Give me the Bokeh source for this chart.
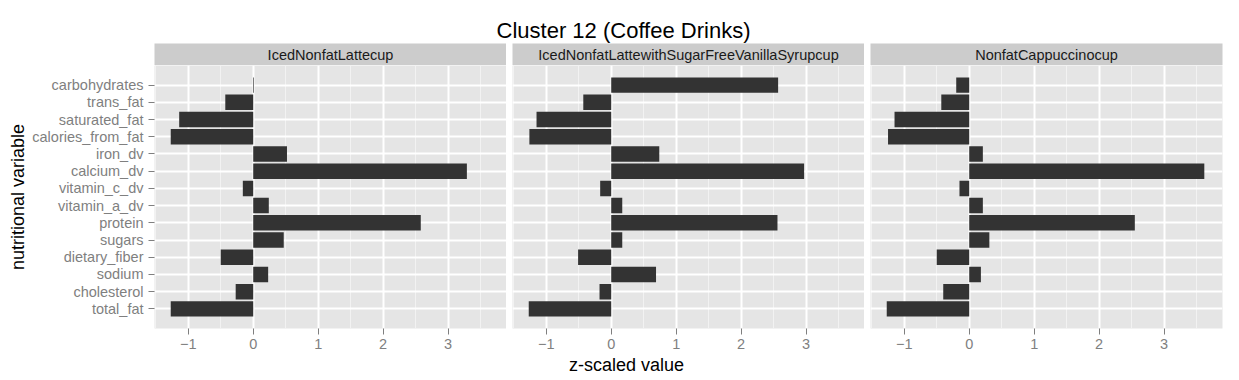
from bokeh.plotting import figure
from bokeh.models import ColumnDataSource, Range1d, FactorRange, FixedTicker, CategoricalTicker
from bokeh.layouts import column, row
from bokeh.embed import file_html
from bokeh.resources import INLINE
from bokeh.core.properties import value

# ---------------- data ----------------
title_text = "Cluster 12 (Coffee Drinks)"
x_title = "z-scaled value"
y_title = "nutritional variable"

# bottom -> top
variables = ["total_fat", "cholesterol", "sodium", "dietary_fiber", "sugars", "protein",
             "vitamin_a_dv", "vitamin_c_dv", "calcium_dv", "iron_dv", "calories_from_fat",
             "saturated_fat", "trans_fat", "carbohydrates"]

drinks = ["IcedNonfatLattecup",
          "IcedNonfatLattewithSugarFreeVanillaSyrupcup",
          "NonfatCappuccinocup"]

iced_nonfat_latte = [-1.27, -0.27, 0.23, -0.50, 0.47, 2.58, 0.24, -0.16, 3.29, 0.52, -1.27, -1.14, -0.43, 0.01]
iced_sf_vanilla = [-1.27, -0.18, 0.69, -0.51, 0.17, 2.56, 0.17, -0.17, 2.97, 0.74, -1.26, -1.15, -0.43, 2.57]
nonfat_cappuccino = [-1.27, -0.40, 0.18, -0.50, 0.31, 2.55, 0.21, -0.15, 3.62, 0.21, -1.25, -1.15, -0.43, -0.20]
series = [iced_nonfat_latte, iced_sf_vanilla, nonfat_cappuccino]

x_ticks = [-1, 0, 1, 2, 3]
x_minor = [-1.5, -0.5, 0.5, 1.5, 2.5, 3.5]

# ---------------- style / layout ----------------
FONT = "Liberation Sans"
LEFT, FW, GAP, RIGHT = 154, 352, 6, 14
TOTAL_W = LEFT + 3 * FW + 2 * GAP + RIGHT
TITLE_H, STRIP_H, FRAME_H, AXIS_H, XLAB_H = 43, 22, 263, 26, 22
PANEL_BG = "#E5E5E5"
STRIP_BG = "#CCCCCC"
BAR = "#333333"
TICK_GREY = "#7F7F7F"
X_START, X_END = -1.52, 3.90


def text_fig(w, h, txt, x, y, size):
    f = figure(width=w, height=h, x_range=Range1d(0, w), y_range=Range1d(0, h),
               output_backend="svg", toolbar_location=None,
               x_axis_location=None, y_axis_location=None,
               min_border=0, outline_line_color=None)
    f.grid.visible = False
    f.text(x=[x], y=[y], text=[txt], text_font=value(FONT), text_font_size=size,
           text_color="black", text_align="center", text_baseline="middle")
    return f


title_fig = text_fig(TOTAL_W, TITLE_H, title_text, 623, 13, "22px")
xlab_fig = text_fig(TOTAL_W, XLAB_H, x_title, 626, 11.5, "18px")

strips = []
panels = []
for i, (name, vals) in enumerate(zip(drinks, series)):
    lb = LEFT if i == 0 else GAP
    rb = RIGHT if i == 2 else 0
    w = lb + FW + rb

    s = figure(width=w, height=STRIP_H, x_range=Range1d(0, 1), y_range=Range1d(0, 1),
               output_backend="svg", toolbar_location=None,
               x_axis_location=None, y_axis_location=None,
               min_border_left=lb, min_border_right=rb, min_border_top=0, min_border_bottom=0,
               background_fill_color=STRIP_BG, border_fill_color="white",
               outline_line_color=None)
    s.grid.visible = False
    s.text(x=[0.5], y=[0.5], text=[name], text_font=value(FONT), text_font_size="14.5px",
           text_color="#1A1A1A", text_align="center", text_baseline="middle")
    strips.append(s)

    src = ColumnDataSource(dict(var=variables, val=vals))
    p = figure(width=w, height=FRAME_H + AXIS_H,
               x_range=Range1d(X_START, X_END),
               y_range=FactorRange(factors=variables, range_padding=0.64,
                                   range_padding_units="absolute"),
               output_backend="svg", toolbar_location=None,
               y_axis_location="left" if i == 0 else None,
               min_border_left=lb, min_border_right=rb, min_border_top=0,
               min_border_bottom=AXIS_H,
               background_fill_color=PANEL_BG, border_fill_color="white",
               outline_line_color=None)
    p.hbar(y="var", left=0, right="val", height=0.9, source=src,
           fill_color=BAR, line_color=None)

    # x axis
    p.xaxis.ticker = FixedTicker(ticks=x_ticks, minor_ticks=x_minor)
    p.xaxis.axis_line_color = None
    p.xaxis.major_tick_out = 6
    p.xaxis.major_tick_in = 0
    p.xaxis.major_tick_line_color = TICK_GREY
    p.xaxis.minor_tick_line_color = None
    p.xaxis.major_label_text_font = FONT
    p.xaxis.major_label_text_font_size = "14.5px"
    p.xaxis.major_label_text_color = TICK_GREY
    p.xaxis.major_label_standoff = 4

    # grids
    p.xgrid.ticker = FixedTicker(ticks=x_ticks, minor_ticks=x_minor)
    p.xgrid.grid_line_color = "white"
    p.xgrid.grid_line_width = 2
    p.xgrid.minor_grid_line_color = "#F2F2F2"
    p.xgrid.minor_grid_line_width = 1
    p.ygrid.ticker = CategoricalTicker()
    p.ygrid.grid_line_color = "white"
    p.ygrid.grid_line_width = 2

    if i == 0:
        p.yaxis.axis_line_color = None
        p.yaxis.major_tick_out = 6
        p.yaxis.major_tick_in = 0
        p.yaxis.major_tick_line_color = TICK_GREY
        p.yaxis.major_label_text_font = FONT
        p.yaxis.major_label_text_font_size = "14.5px"
        p.yaxis.major_label_text_color = TICK_GREY
        p.yaxis.major_label_standoff = 5
        p.yaxis.axis_label = y_title
        p.yaxis.axis_label_text_font = FONT
        p.yaxis.axis_label_text_font_size = "18px"
        p.yaxis.axis_label_text_font_style = "normal"
        p.yaxis.axis_label_text_color = "black"
        p.yaxis.axis_label_standoff = 1
    panels.append(p)

layout = column(title_fig, row(*strips), row(*panels), xlab_fig)

open("out.html", "w").write(file_html(layout, INLINE))
